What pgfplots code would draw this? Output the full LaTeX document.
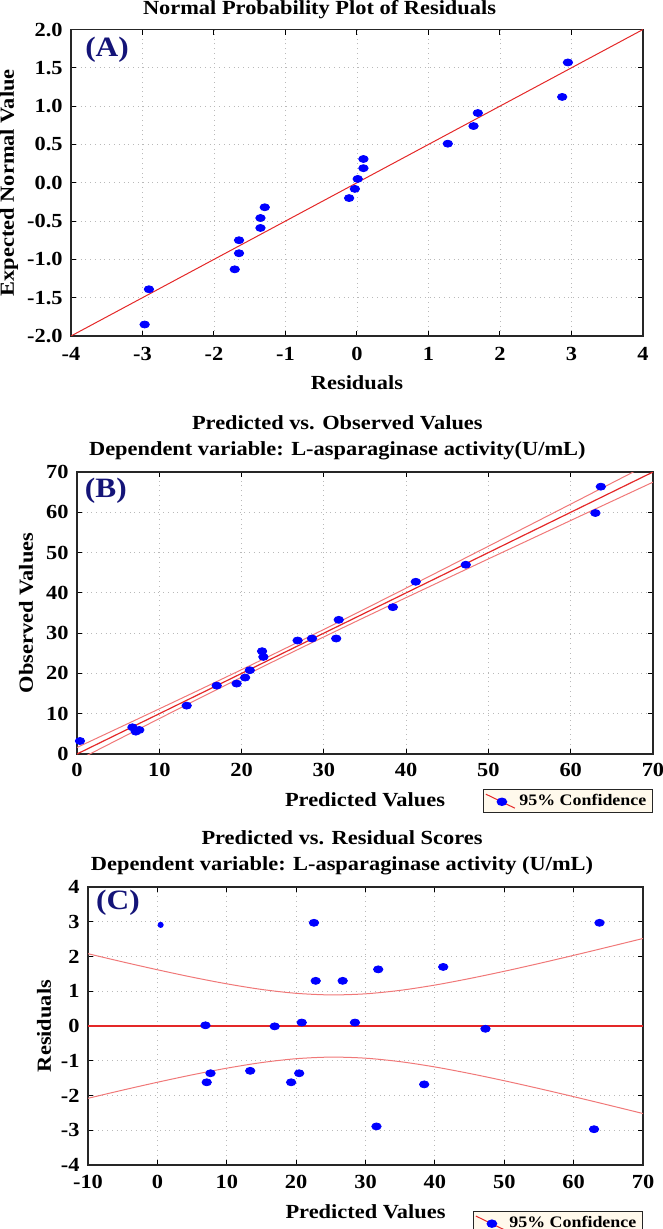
\documentclass[border=0pt]{standalone}
\usepackage{fontspec}
\setmainfont{Liberation Serif}[FakeStretch=1.12]
\usepackage{pgfplots}
\pgfplotsset{compat=1.18}

\definecolor{navyA}{RGB}{20,20,120}
\definecolor{regred}{RGB}{228,40,40}
\definecolor{bandred}{RGB}{240,120,120}
\definecolor{legfill}{RGB}{255,249,236}
\definecolor{ptblue}{RGB}{0,0,255}

\tikzset{plabel/.style={font=\fontsize{14bp}{16bp}\selectfont\bfseries, text=navyA, inner sep=0pt}}

\pgfplotsset{
  panel/.style={
    scale only axis, anchor=north west,
    axis line style={black!85, line width=0.7bp},
    grid=major, major grid style={gray!55, dotted, line width=0.4bp},
    tick align=inside, major tick length=2.5bp, tick style={black, line width=0.5bp},
    tick label style={font=\fontsize{10bp}{11bp}\selectfont\bfseries},
    /pgf/number format/assume math mode=true,
    label style={font=\fontsize{10bp}{12bp}\selectfont\bfseries},
    title style={font=\fontsize{10bp}{13bp}\selectfont\bfseries, align=center, anchor=center},
    yticklabel style={anchor=east, inner sep=0pt, xshift=-4bp},
  },
  pts/.style={only marks, mark=*, mark size=1.75bp, color=ptblue,
    mark options={xscale=1.35, draw=ptblue, fill=ptblue}},
  conflegend/.style={
    legend style={at={#1}, anchor=north east, fill=legfill, draw=black!85, line width=0.7bp,
      font=\fontsize{8bp}{8.5bp}\selectfont\bfseries, inner xsep=1bp, inner ysep=0.2bp},
    legend image code/.code={
      \draw[regred, line width=0.5bp] (0bp,3.5bp) -- (14.5bp,-3.5bp);
      \fill[ptblue] (8bp,-0.3bp) ellipse (2.3bp and 1.75bp);}
  },
}

\begin{document}
\begin{tikzpicture}
\useasboundingbox (0,0) rectangle (331.5bp,-614.5bp);

% ---------------- (A) ----------------
\begin{axis}[panel,
  at={(35.5bp,-14.75bp)}, width=286bp, height=153.25bp,
  xmin=-4, xmax=4, ymin=-2, ymax=2,
  xtick={-4,-3,-2,-1,0,1,2,3,4},
  xticklabels={-4,-3,-2,-1,0,1,2,3,4},
  ytick={-2,-1.5,-1,-0.5,0,0.5,1,1.5,2},
  yticklabels={-2.0,-1.5,-1.0,-0.5,0.0,0.5,1.0,1.5,2.0},
  xticklabel style={anchor=center, yshift=-9bp},
  title={Normal Probability Plot of Residuals},
  title style={at={(0.4345,1)}, yshift=4.2bp},
  xlabel={Residuals},
  xlabel style={at={(axis description cs:0.5,-0.1533)}, anchor=center},
  ylabel={Expected Normal Value},
  ylabel style={at={(axis description cs:-0.1084,0.5)}, anchor=center},
]
\addplot[regred, line width=0.5bp] coordinates {(-4,-2) (4,2)};
\addplot[pts] coordinates {
  (-2.97,-1.85) (-2.91,-1.39) (-1.71,-1.13) (-1.65,-0.92) (-1.65,-0.75)
  (-1.35,-0.59) (-1.35,-0.46) (-1.29,-0.32) (-0.11,-0.20) (-0.03,-0.08)
  (0.01,0.05) (0.09,0.19) (0.09,0.31) (1.27,0.51) (1.63,0.74)
  (1.69,0.91) (2.87,1.12) (2.95,1.57)};
\node[plabel] at (rel axis cs:0.063,0.933) {(A)};
\end{axis}

% ---------------- (B) ----------------
\begin{axis}[panel, conflegend={(1,-0.124)},
  at={(38.5bp,-236bp)}, width=288bp, height=141bp,
  xmin=0, xmax=70, ymin=0, ymax=70,
  xtick={0,10,20,30,40,50,60,70},
  xticklabels={0,10,20,30,40,50,60,70},
  ytick={0,10,20,30,40,50,60,70},
  yticklabels={0,10,20,30,40,50,60,70},
  xticklabel style={anchor=center, yshift=-8bp},
  title={Predicted vs. Observed Values\\Dependent variable: L-asparaginase activity(U/mL)},
  title style={at={(0.452,1)}, yshift=11.3bp},
  xlabel={Predicted Values},
  xlabel style={at={(axis description cs:0.5,-0.163)}, anchor=center},
  ylabel={Observed Values},
  ylabel style={at={(axis description cs:-0.0885,0.5)}, anchor=center},
]
\addplot[bandred, line width=0.5bp, smooth, forget plot] coordinates {
  (0,1.62) (5,6.41) (10,11.21) (15,16.05) (20,20.94) (25,25.90) (30,30.93) (35,36.03)
  (40,41.18) (45,46.37) (50,51.58) (55,56.80) (60,62.03) (65,67.27) (70,72.52)};
\addplot[bandred, line width=0.5bp, smooth, forget plot] coordinates {
  (0,-1.62) (5,3.59) (10,8.79) (15,13.95) (20,19.06) (25,24.10) (30,29.07) (35,33.97)
  (40,38.82) (45,43.63) (50,48.43) (55,53.20) (60,57.97) (65,62.73) (70,67.48)};
\addplot[regred, line width=0.6bp, forget plot] coordinates {(0,0) (70,70)};
\addplot[pts] coordinates {
  (0.36,3.23) (6.74,6.63) (7.15,5.55) (7.57,5.97) (13.33,12.01) (16.98,16.98)
  (19.40,17.48) (20.43,18.97) (21.0,20.8) (22.49,25.52) (22.65,24.11) (26.81,28.17)
  (28.56,28.67) (31.50,28.67) (31.81,33.31) (38.39,36.45) (41.17,42.75) (47.25,46.98)
  (63.0,59.82) (63.66,66.36)};
\addlegendentry{95\% Confidence}
\node[plabel] at (rel axis cs:0.050,0.933) {(B)};
\end{axis}

% ---------------- (C) ----------------
\begin{axis}[panel, conflegend={(1,-0.165)},
  at={(44bp,-443.5bp)}, width=277.5bp, height=139bp,
  xmin=-10, xmax=70, ymin=-4, ymax=4,
  xtick={-10,0,10,20,30,40,50,60,70},
  xticklabels={-10,0,10,20,30,40,50,60,70},
  ytick={-4,-3,-2,-1,0,1,2,3,4},
  yticklabels={-4,-3,-2,-1,0,1,2,3,4},
  xticklabel style={anchor=center, yshift=-8.5bp},
  title={Predicted vs. Residual Scores\\Dependent variable: L-asparaginase activity (U/mL)},
  title style={at={(0.4577,1)}, yshift=11.3bp},
  xlabel={Predicted Values},
  xlabel style={at={(axis description cs:0.5,-0.169)}, anchor=center},
  ylabel={Residuals},
  ylabel style={at={(axis description cs:-0.0793,0.5)}, anchor=center},
]
\addplot[bandred, line width=0.5bp, smooth, forget plot] coordinates {
  (-10,2.081) (-5,1.845) (0,1.619) (5,1.406) (10,1.214) (15,1.053) (20,0.941) (25,0.895)
  (30,0.926) (35,1.026) (40,1.178) (45,1.366) (50,1.575) (55,1.799) (60,2.033) (65,2.274) (70,2.519)};
\addplot[bandred, line width=0.5bp, smooth, forget plot] coordinates {
  (-10,-2.081) (-5,-1.845) (0,-1.619) (5,-1.406) (10,-1.214) (15,-1.053) (20,-0.941) (25,-0.895)
  (30,-0.926) (35,-1.026) (40,-1.178) (45,-1.366) (50,-1.575) (55,-1.799) (60,-2.033) (65,-2.274) (70,-2.519)};
\addplot[regred, line width=0.75bp, forget plot] coordinates {(-10,0) (70,0)};
\addplot[pts] coordinates {
  (6.93,0.02) (7.11,-1.62) (7.66,-1.36) (13.38,-1.29) (16.91,-0.01)
  (19.28,-1.62) (20.44,-1.36) (20.81,0.10) (22.57,2.97) (22.82,1.30) (26.71,1.30)
  (28.48,0.10) (31.58,-2.89) (31.83,1.63) (38.46,-1.68) (41.20,1.70) (47.29,-0.08)
  (62.94,-2.97) (63.73,2.97)};
\addlegendentry{95\% Confidence}
\addplot[only marks, mark=*, mark size=1.3bp, color=ptblue, forget plot] coordinates {(0.47,2.91)};
\node[plabel] at (rel axis cs:0.054,0.942) {(C)};
\end{axis}
\end{tikzpicture}
\end{document}
